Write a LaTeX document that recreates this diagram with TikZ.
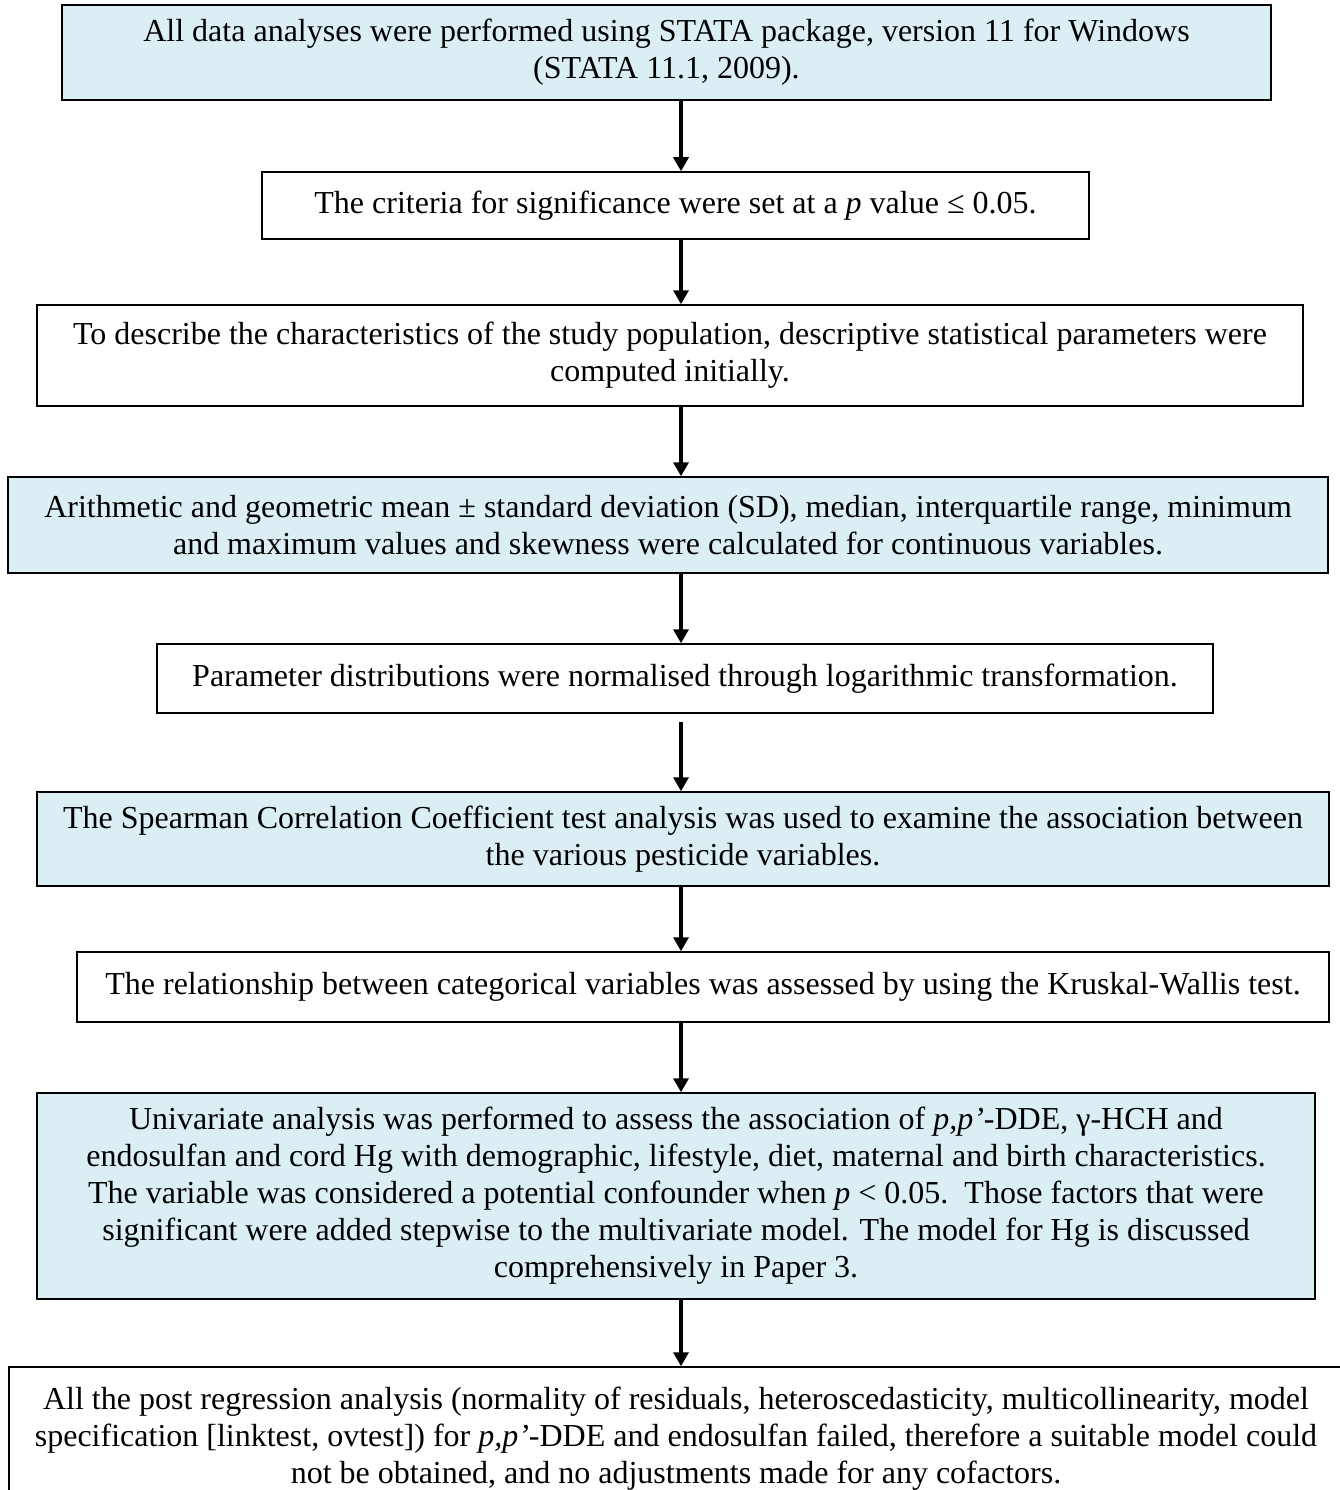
\documentclass[tikz,border=0pt]{standalone}
\usepackage{fontspec}
\setmainfont{Liberation Serif}
\usetikzlibrary{arrows.meta}
\definecolor{paleblue}{RGB}{218,238,243}
\begin{document}
\begin{tikzpicture}[x=1pt,y=-1pt,
  flowbox/.style={draw=black, line width=1.5pt, align=center, inner sep=0pt,
    font=\fontsize{32}{37}\selectfont},
  shaded/.style={flowbox, fill=paleblue},
  plain/.style={flowbox, fill=white},
  flow/.style={line width=4pt, -{Triangle[length=14pt,width=15pt]}}]
\useasboundingbox (0,0) rectangle (1340,1490);
\clip (0,0) rectangle (1340,1490);

% the steps of the analysis, top to bottom
\node[shaded, minimum width=1209pt, minimum height=95pt] (b1) at (666.5,52.5)
  {All data analyses were performed using STATA package, version 11 for Windows\\(STATA 11.1, 2009).};
\node[plain, minimum width=827pt, minimum height=67pt] (b2) at (675.5,205.5)
  {The criteria for significance were set at a \textit{p} value ≤ 0.05.};
\node[plain, minimum width=1266pt, minimum height=101pt] (b3) at (670,355.5)
  {To describe the characteristics of the study population, descriptive statistical parameters were\\computed initially.};
\node[shaded, minimum width=1320pt, minimum height=96pt] (b4) at (668,525)
  {Arithmetic and geometric mean ± standard deviation (SD), median, interquartile range, minimum\\and maximum values and skewness were calculated for continuous variables.};
\node[plain, minimum width=1056pt, minimum height=69pt] (b5) at (685,678.5)
  {Parameter distributions were normalised through logarithmic transformation.};
\node[shaded, minimum width=1292pt, minimum height=94pt] (b6) at (683,839)
  {The Spearman Correlation Coefficient test analysis was used to examine the association between\\the various pesticide variables.};
\node[plain, minimum width=1252pt, minimum height=70pt] (b7) at (703,987)
  {The relationship between categorical variables was assessed by using the Kruskal-Wallis test.};
\node[shaded, minimum width=1278pt, minimum height=206pt] (b8) at (676,1196)
  {Univariate analysis was performed to assess the association of \textit{p,p’}-DDE, γ-HCH and\\
   endosulfan and cord Hg with demographic, lifestyle, diet, maternal and birth characteristics.\\
   The variable was considered a potential confounder when \textit{p} < 0.05.\ \ Those factors that were\\
   significant were added stepwise to the multivariate model. The model for Hg is discussed\\
   comprehensively in Paper 3.};
\node[plain, minimum width=1334pt, minimum height=143pt] (b9) at (676,1438.5)
  {All the post regression analysis (normality of residuals, heteroscedasticity, multicollinearity, model\\
   specification [linktest, ovtest]) for \textit{p,p’}-DDE and endosulfan failed, therefore a suitable model could\\
   not be obtained, and no adjustments made for any cofactors.};

% connectors, all on one vertical line
\coordinate (col) at (681,0);
\draw[flow] (b1.south -| col) -- (b2.north -| col);
\draw[flow] (b2.south -| col) -- (b3.north -| col);
\draw[flow] (b3.south -| col) -- (b4.north -| col);
\draw[flow] (b4.south -| col) -- (b5.north -| col);
\draw[flow, shorten <=8pt] (b5.south -| col) -- (b6.north -| col);
\draw[flow] (b6.south -| col) -- (b7.north -| col);
\draw[flow] (b7.south -| col) -- (b8.north -| col);
\draw[flow] (b8.south -| col) -- (b9.north -| col);
\end{tikzpicture}
\end{document}
